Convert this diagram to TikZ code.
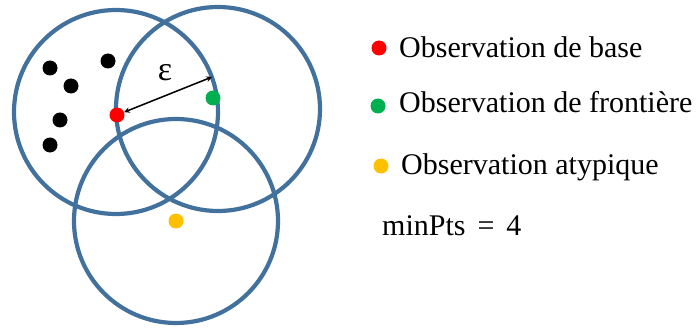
\documentclass[tikz,border=0pt]{standalone}
\usepackage{fontspec}
\setmainfont{Liberation Serif}
\definecolor{ringblue}{HTML}{41719C}
\definecolor{corered}{HTML}{FF0000}
\definecolor{bordgreen}{HTML}{00B050}
\definecolor{outyellow}{HTML}{FFC000}
\begin{document}
\begin{tikzpicture}[x=1pt,y=-1pt,every node/.style={font=\fontsize{30}{36}\selectfont},
  ring/.style={circle,draw=ringblue,line width=4.2pt,minimum size=204pt,inner sep=0pt},
  obs/.style={circle,inner sep=0pt,minimum size=15pt},
  lbl/.style={anchor=base west,inner sep=0pt}]
 \useasboundingbox (0,0) rectangle (697,329);
 % eps-neighbourhoods
 \node[ring] (n1) at (116,112) {};
 \node[ring] (n2) at (218,109) {};
 \node[ring] (n3) at (176,221) {};
 % observations
 \node[obs,fill=black] (k1) at (50,68) {};
 \node[obs,fill=black] (k2) at (108,61) {};
 \node[obs,fill=black] (k3) at (71,86) {};
 \node[obs,fill=black] (k4) at (60,120) {};
 \node[obs,fill=black] (k5) at (50,145) {};
 \node[obs,fill=corered] (core) at (117,115) {};
 \node[obs,fill=bordgreen] (bord) at (213,98) {};
 \node[obs,fill=outyellow] (out) at (176,221) {};
 % radius
 \coordinate (rim) at (212,77);
 \draw[<->,>=stealth,line width=1.5pt] (core) -- (rim);
 \node[font=\fontsize{34}{40}\selectfont] (eps) at (165,73) {ε};
 % legend
 \node[obs,fill=corered] (lc) at (379,48) {};
 \node[obs,fill=bordgreen] (lb) at (378,106) {};
 \node[obs,fill=outyellow] (lo) at (381,166) {};
 \node[lbl] (tc) at (399,58) {Observation de base};
 \node[lbl] (tb) at (399,113) {Observation de frontière};
 \node[lbl] (to) at (401,174) {Observation atypique};
 \node[lbl] (mp) at (382,235) {minPts\hspace{0.4em}=\hspace{0.4em}4};
\end{tikzpicture}
\end{document}
